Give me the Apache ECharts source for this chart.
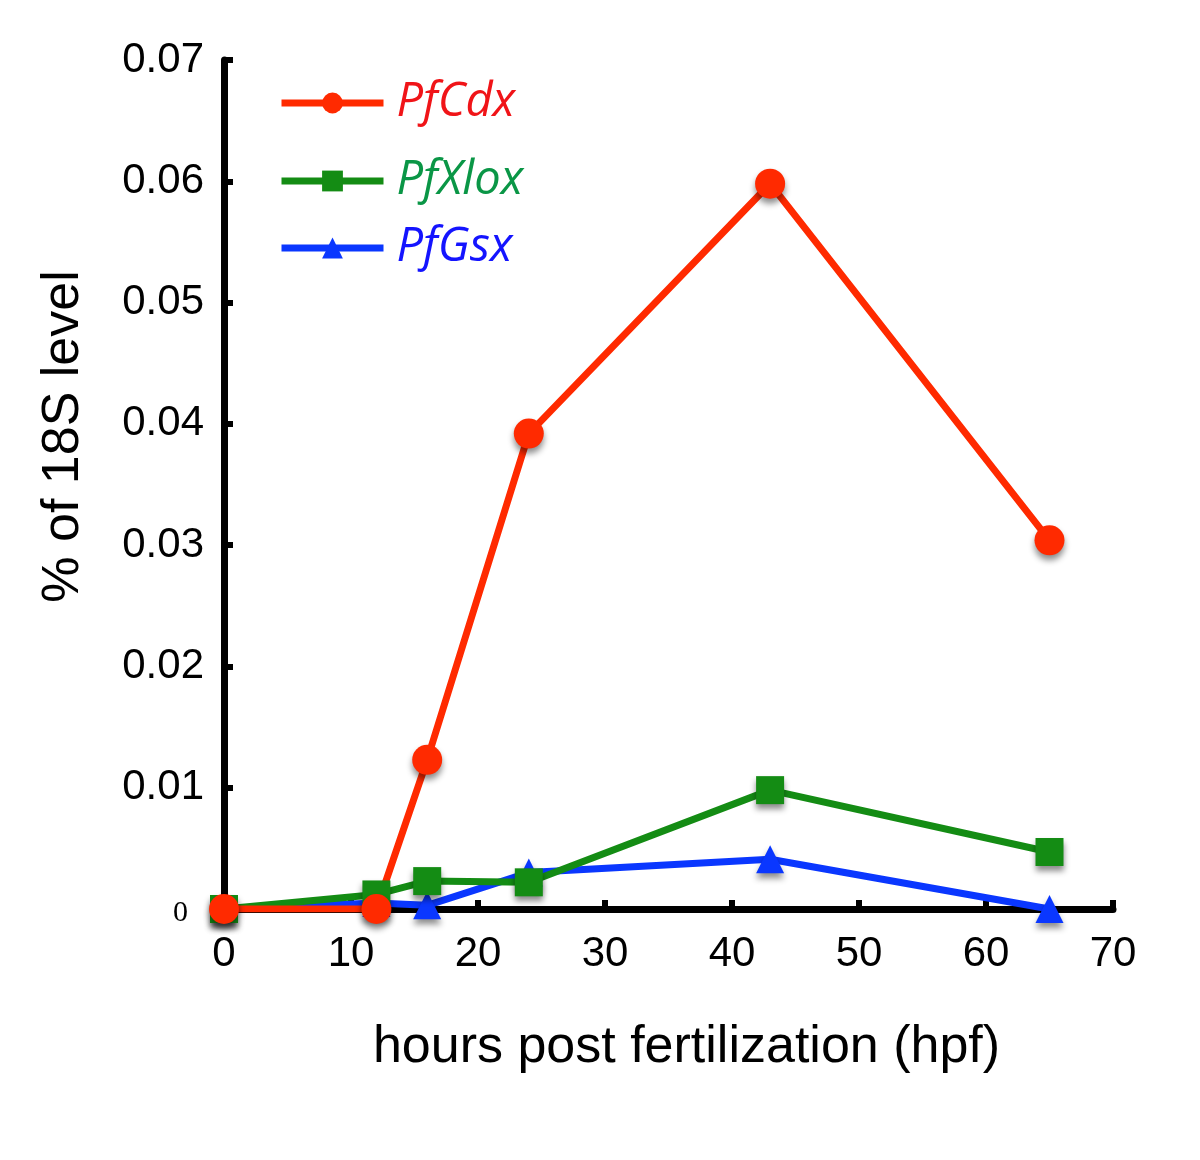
<!DOCTYPE html>
<html>
<head>
<meta charset="utf-8">
<script src="https://cdn.jsdelivr.net/npm/echarts@6/dist/echarts.min.js"></script>
<style>html,body{margin:0;padding:0;background:#fff}#c{width:1200px;height:1160px}</style>
</head>
<body>
<div id="c"></div>
<script>
const hours = [0, 12, 16, 24, 43, 65];
const pfCdx = [0, 0, 0.0123, 0.0392, 0.0598, 0.0304];
const pfXlox = [0, 0.0012, 0.0023, 0.0022, 0.0098, 0.0047];
const pfGsx = [0, 0.0005, 0.0003, 0.0030, 0.0041, 0];
const xTicks = [0, 10, 20, 30, 40, 50, 60, 70];
const yTicks = [0, 0.01, 0.02, 0.03, 0.04, 0.05, 0.06, 0.07];

const RED = '#ff2a00', GREEN = '#148c14', BLUE = '#0a37ff';
const TXT_RED = '#f01418', TXT_GREEN = '#0a9646', TXT_BLUE = '#1414ff';

function pairs(ys) { return hours.map((h, i) => [h, ys[i]]); }
const shadow = { shadowBlur: 6, shadowColor: 'rgba(0,0,0,0.45)', shadowOffsetY: 5 };

function mkSeries(name, ys, color, symbol, size) {
  return {
    name, type: 'line', data: pairs(ys), symbol, symbolSize: size,
    lineStyle: { color, width: 7 },
    itemStyle: Object.assign({ color }, shadow),
    emphasis: { disabled: true }
  };
}
function mkLegend(name, top, color) {
  return {
    data: [name], left: 278, top, padding: 0, itemWidth: 102, itemHeight: 26, itemGap: 10,
    lineStyle: { width: 7 },
    itemStyle: { shadowBlur: 0, shadowOffsetY: 0, shadowColor: 'transparent' },
    textStyle: { color, fontSize: 47, fontStyle: 'italic', fontFamily: 'Open Sans', lineHeight: 50, padding: [0, 0, 0, 8] },
    selectedMode: false
  };
}

const chart = echarts.init(document.getElementById('c'), null, { renderer: 'canvas' });
chart.setOption({
  animation: false,
  backgroundColor: '#fff',
  grid: { left: 224, right: 87, top: 60, bottom: 251 },
  legend: [
    mkLegend('PfCdx', 78, TXT_RED),
    mkLegend('PfXlox', 156, TXT_GREEN),
    mkLegend('PfGsx', 223, TXT_BLUE)
  ],
  xAxis: {
    type: 'value', min: xTicks[0], max: xTicks[xTicks.length - 1], interval: 10,
    name: 'hours post fertilization (hpf)', nameLocation: 'middle', nameGap: 113,
    nameTextStyle: { fontSize: 52, color: '#000', fontFamily: 'Liberation Sans', padding: [0, 0, 0, 36] },
    axisLine: { lineStyle: { color: '#000', width: 7 } },
    axisTick: { inside: true, length: 9, lineStyle: { color: '#000', width: 6 } },
    axisLabel: { fontSize: 42, color: '#000', fontFamily: 'Liberation Sans', margin: 24 },
    splitLine: { show: false }
  },
  yAxis: {
    type: 'value', min: yTicks[0], max: yTicks[yTicks.length - 1], interval: 0.01,
    name: '% of 18S level', nameLocation: 'middle', nameGap: 134,
    nameTextStyle: { fontSize: 52, color: '#000', fontFamily: 'Liberation Sans', padding: [0, 0, 0, 96] },
    axisLine: { lineStyle: { color: '#000', width: 7 } },
    axisTick: { inside: true, length: 9, lineStyle: { color: '#000', width: 6 } },
    axisLabel: {
      fontSize: 42, color: '#000', fontFamily: 'Liberation Sans', margin: 20,
      formatter: v => v === 0 ? '{z|0}' : v.toFixed(2),
      rich: { z: { fontFamily: 'Liberation Serif', fontSize: 30, color: '#000', padding: [8, 16, 0, 0] } }
    },
    splitLine: { show: false }
  },
  series: [
    mkSeries('PfGsx', pfGsx, BLUE, 'triangle', 28),
    mkSeries('PfXlox', pfXlox, GREEN, 'rect', 28),
    mkSeries('PfCdx', pfCdx, RED, 'circle', 30)
  ]
});
</script>
</body>
</html>
